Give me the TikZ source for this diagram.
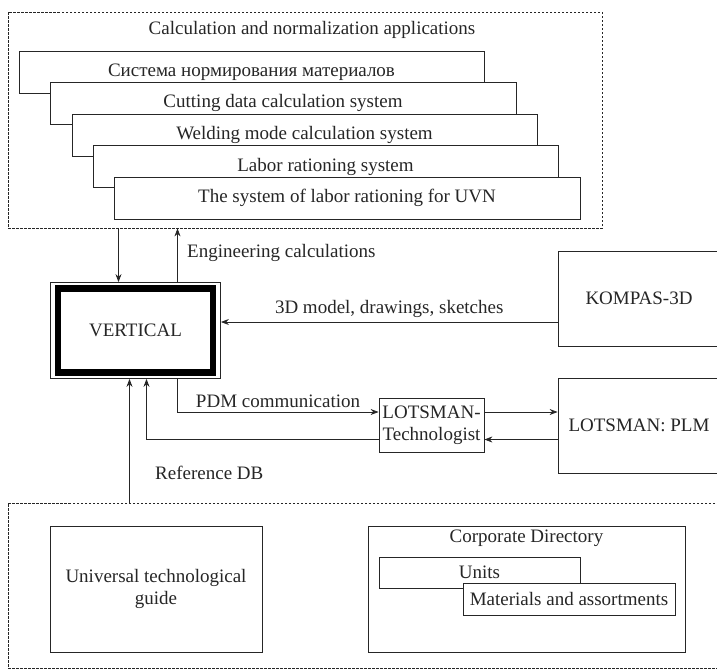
\documentclass[tikz,border=0pt]{standalone}
\usepackage{fontspec}
\setmainfont{Liberation Serif}
\usetikzlibrary{calc,arrows.meta}

\begin{document}
\begin{tikzpicture}[
	x=1pt, y=-1pt, % work in pixels of the sketch, y going down
	>={Stealth[length=8pt,width=6pt]}, % small solid heads
	every node/.style={font=\fontsize{19}{22}\selectfont, text=black!85},
	line width=0.8pt, draw=black!85,
	box/.style={draw=black!85, fill=white, inner sep=0pt, align=center},
	group/.style={draw=black!85, dash pattern=on 2.5pt off 1.5pt, inner sep=0pt}
]
\useasboundingbox (0,0) rectangle (717,670);

% calculation applications
\node[group, minimum width=594, minimum height=216] (calc) at (305,120) {};
\node (calctitle) at (312,30) {Calculation and normalization applications};
\node[box, minimum width=465, minimum height=42] (norm) at (251.5,72) {Система нормирования материалов};
\node[box, minimum width=466, minimum height=42] (cutting) at (283,103) {Cutting data calculation system};
\node[box, minimum width=465, minimum height=42] (welding) at (304.5,135) {Welding mode calculation system};
\node[box, minimum width=465, minimum height=42] (labor) at (325.5,166.5) {Labor rationing system};
\node[box, minimum width=466, minimum height=42] (uvn) at (347,198) {The system of labor rationing for UVN};

% main systems
\node[box, minimum width=170, minimum height=96] (vertical) at (135.5,330.5) {};
\node[draw=black, line width=6.5pt, inner sep=0pt, minimum width=155, minimum height=84] (verticalin) at (vertical) {VERTICAL};
\node[box, minimum width=162, minimum height=95] (kompas) at (639,298.5) {KOMPAS-3D};
\node[box, minimum width=162, minimum height=95] (plm) at (639,425.5) {LOTSMAN: PLM};
\node[box, minimum width=105, minimum height=54] (tech) at (431.5,425) {LOTSMAN-\\Technologist};

% reference data
\node[group, minimum width=717, minimum height=165] (refdb) at (366.5,585.5) {};
\node[box, minimum width=212, minimum height=126] (guide) at (156,589) {Universal technological\\guide};
\node[box, minimum width=317, minimum height=126] (corp) at (526.5,589) {};
\node[below=1pt] (corptitle) at (corp.north) {Corporate Directory};
\node[box, minimum width=201, minimum height=31] (units) at (479.5,572.5) {Units};
\node[box, minimum width=212, minimum height=32] (materials) at (569,599) {Materials and assortments};

% connections
\draw[<-] ([xshift=-17]vertical.north) -- ([xshift=-17]vertical.north |- calc.south);
\draw[->] ([xshift=42]vertical.north) -- ([xshift=42]vertical.north |- calc.south)
	node[pos=0.55, right=6pt] {Engineering calculations};
\draw[->] ([yshift=-23.5]kompas.west) -- ([yshift=-23.5]kompas.west -| vertical.east)
	node[midway, above=1pt] {3D model, drawings, sketches};
\draw[->] ([xshift=42]vertical.south) |- ([yshift=13]tech.west)
	node[pos=0.75, above=1pt] {PDM communication};
\draw[->] ([yshift=13]tech.east) -- ([yshift=13]tech.east -| plm.west);
\draw[->] ([yshift=-14]plm.west) -- ([yshift=-14]plm.west -| tech.east);
\draw[->] ([yshift=-14]tech.west) -| ([xshift=11]vertical.south);
\draw[->] ([xshift=-6]vertical.south |- refdb.north) -- ([xshift=-6]vertical.south)
	node[pos=0.24, right=22pt] {Reference DB};
\end{tikzpicture}
\end{document}
